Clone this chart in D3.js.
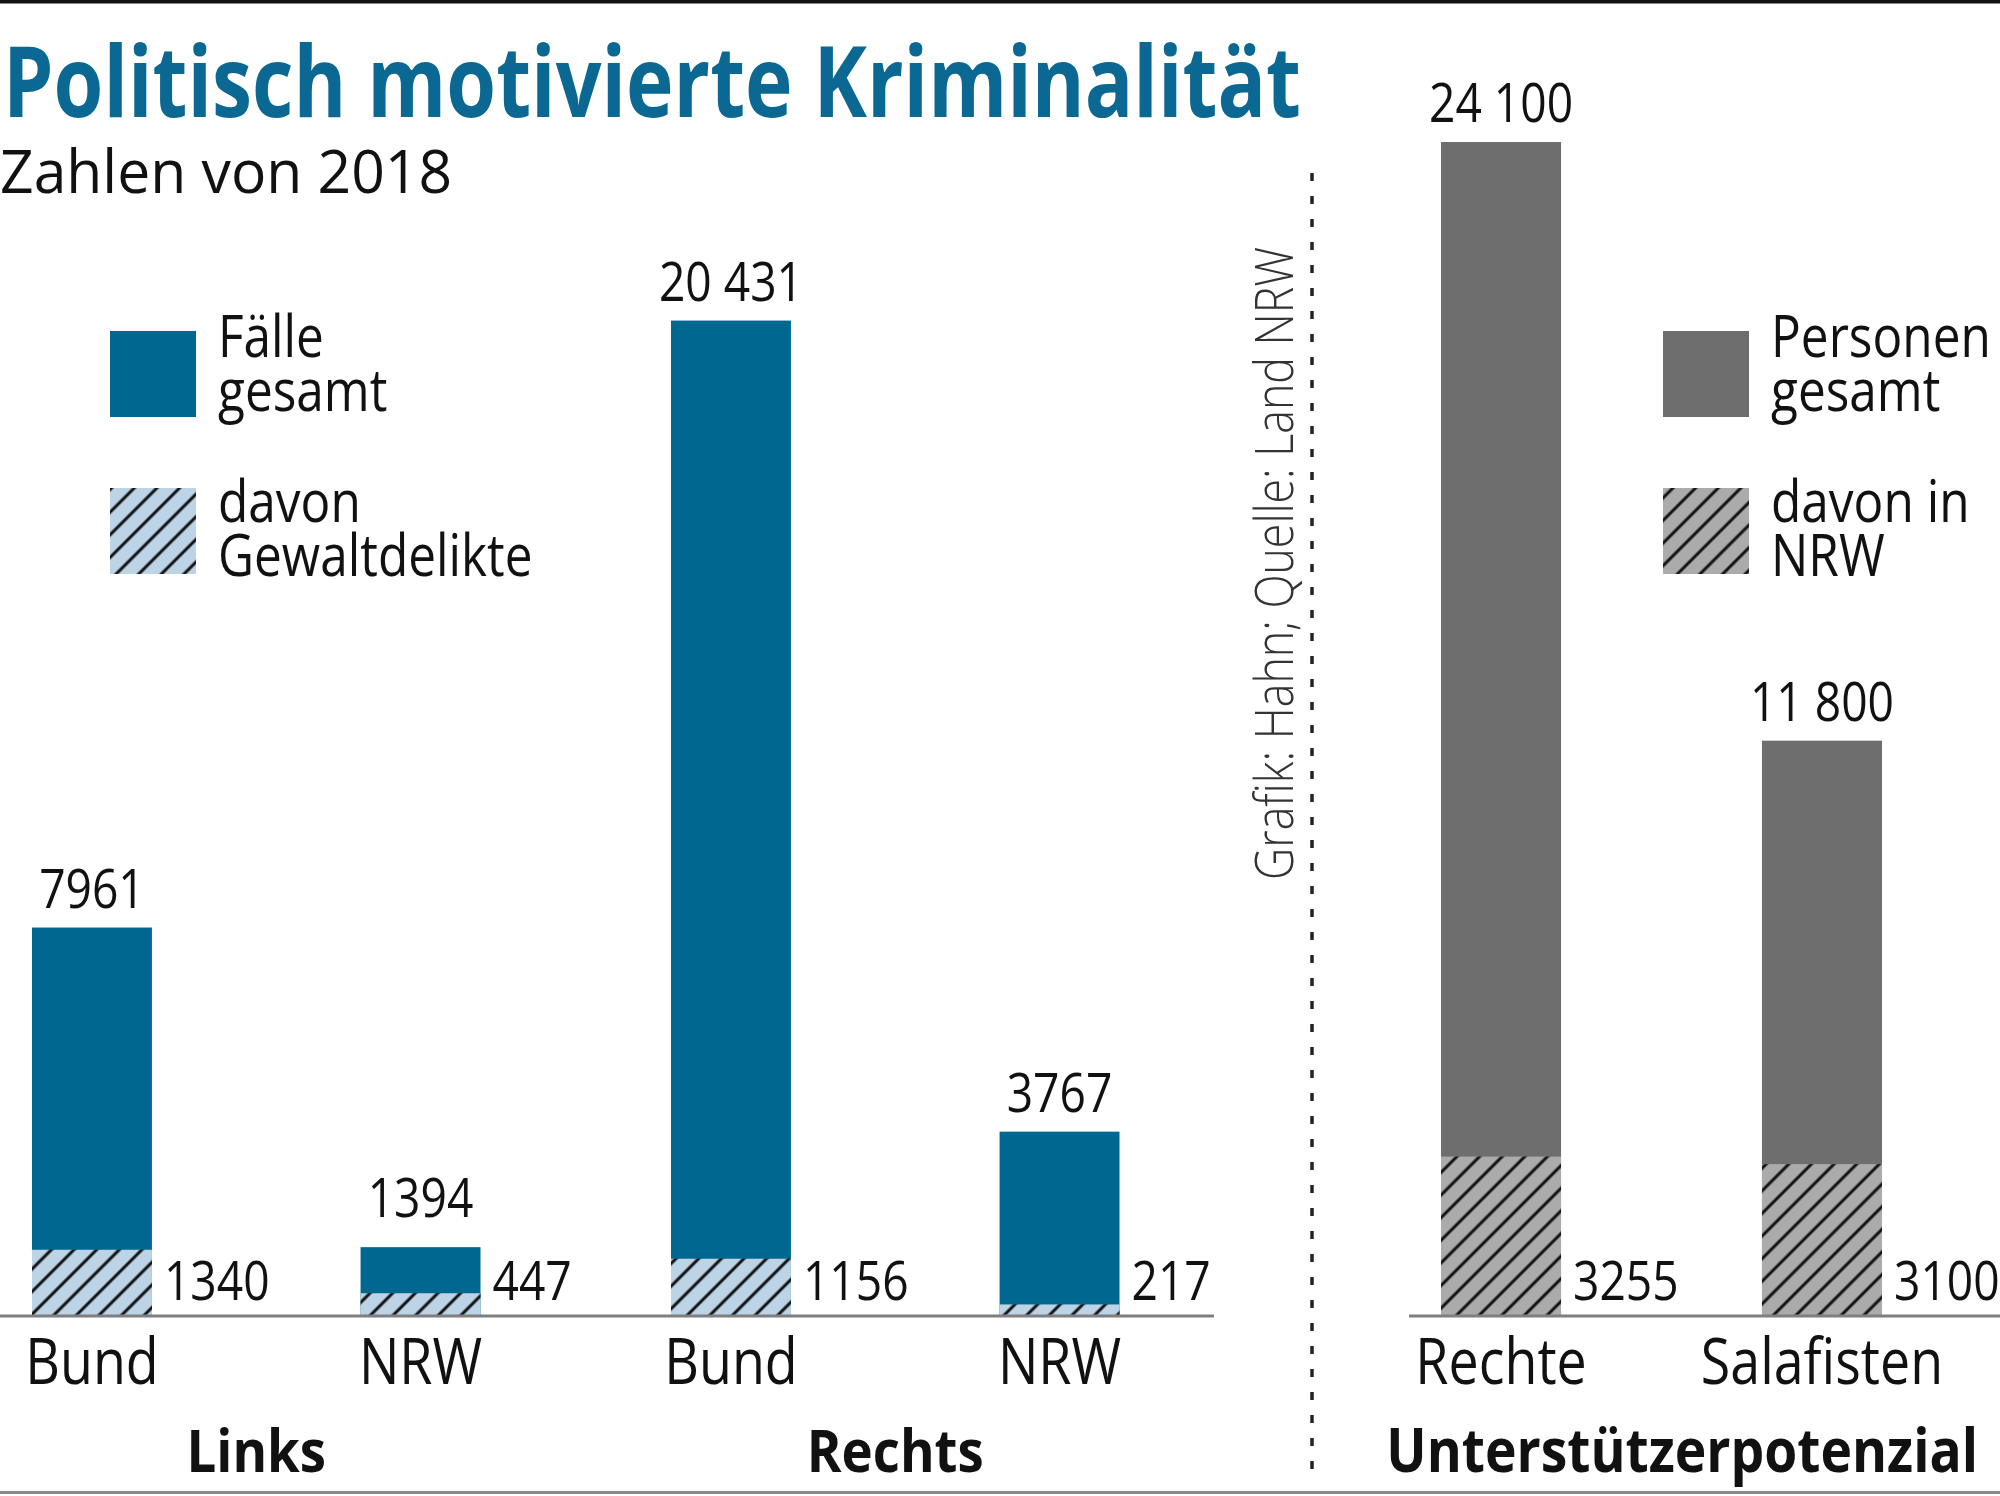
<!DOCTYPE html>
<html>
<head>
<meta charset="utf-8">
<script src="https://cdn.jsdelivr.net/npm/d3@7"></script>
<style>
  body { margin: 0; background: #fff; }
</style>
</head>
<body>
<div id="chart"></div>
<script>
// Politisch motivierte Kriminalität 2018
var groups = ['Links', 'Rechts'];
var places = ['Bund', 'NRW'];
var faelle = [7961, 1394, 20431, 3767];   // Links Bund, Links NRW, Rechts Bund, Rechts NRW
var gewalt = [1340, 447, 1156, 217];       // davon Gewaltdelikte

var lager = ['Rechte', 'Salafisten'];
var personen = [24100, 11800];
var personenNRW = [3255, 3100];

var W = 2000, H = 1496;
var BLUE = '#006791', GREY = '#6f6e6f';
var FONT = "'Open Sans', 'Noto Sans', sans-serif";

var svg = d3.select('#chart').append('svg')
  .attr('width', W)
  .attr('height', H);

//-------------------------------
// hatch patterns
var defs = svg.append('defs');
function hatch(id, bg) {
  var p = defs.append('pattern')
    .attr('id', id)
    .attr('patternUnits', 'userSpaceOnUse')
    .attr('width', 16)
    .attr('height', 16)
    .attr('patternTransform', 'rotate(45)');
  p.append('rect').attr('width', 16).attr('height', 16).attr('fill', bg);
  p.append('line')
    .attr('x1', 8).attr('x2', 8)
    .attr('y1', 0).attr('y2', 16)
    .attr('stroke', '#111')
    .attr('stroke-width', 3);
}
hatch('hatchBlue', '#bdd4e7');
hatch('hatchGrey', '#ababab');

// condensed look: Open Sans squeezed horizontally
function txt(g, str, x, y, o) {
  o = o || {};
  var t = 'translate(' + x + ',' + y + ')';
  if (o.rotate) t += ' rotate(' + o.rotate + ')';
  t += ' scale(' + (o.sx || 0.84) + ',1)';
  return g.append('text')
    .attr('transform', t)
    .attr('text-anchor', o.anchor || 'start')
    .attr('font-family', FONT)
    .attr('font-size', o.size || 59)
    .attr('font-weight', o.weight || 500)
    .attr('fill', o.color || '#111')
    .text(str);
}

var fmt = function (v) {
  return v >= 10000 ? d3.format(',')(v).replace(/,/g, ' ') : String(v);
};

//-------------------------------
// scales
var y = d3.scaleLinear().domain([0, 24100]).range([1315, 142]);

var x0 = d3.scaleBand().domain(groups).range([32, 1310]);
var x1 = d3.scaleBand().domain(places).range([0, 448.5]).paddingInner(0.635);
var xr = d3.scaleBand().domain(lager).range([1441, 1882]).paddingInner(0.626);

var left = faelle.map(function (v, i) {
  return {
    group: groups[Math.floor(i / 2)],
    place: places[i % 2],
    total: v,
    part: gewalt[i]
  };
});
left.forEach(function (d) { d.x = x0(d.group) + x1(d.place); });

var right = personen.map(function (v, i) {
  return { name: lager[i], total: v, part: personenNRW[i] };
});
right.forEach(function (d) { d.x = xr(d.name); });

//-------------------------------
// frame lines
svg.append('rect').attr('x', 0).attr('y', 0).attr('width', W).attr('height', 3.5).attr('fill', '#111');
svg.append('rect').attr('x', 0).attr('y', 1491).attr('width', W).attr('height', 3).attr('fill', '#8a8a8a');

// title
svg.append('text')
  .attr('x', 3).attr('y', 117)
  .attr('font-family', FONT)
  .attr('font-size', 98)
  .attr('font-weight', 700)
  .attr('fill', '#0a6893')
  .attr('textLength', 1298)
  .attr('lengthAdjust', 'spacingAndGlyphs')
  .text('Politisch motivierte Kriminalität');

txt(svg, 'Zahlen von 2018', 0, 193, { size: 60, sx: 0.98, weight: 400 });

//-------------------------------
// bars
function drawBars(data, band, fill, pattern) {
  var g = svg.append('g');
  g.selectAll('.total').data(data).enter().append('rect')
    .attr('class', 'total')
    .attr('x', function (d) { return d.x; })
    .attr('y', function (d) { return y(d.total); })
    .attr('width', band)
    .attr('height', function (d) { return y(0) - y(d.total); })
    .attr('fill', fill);
  g.selectAll('.part').data(data).enter().append('rect')
    .attr('class', 'part')
    .attr('x', function (d) { return d.x; })
    .attr('y', function (d) { return y(d.part); })
    .attr('width', band)
    .attr('height', function (d) { return y(0) - y(d.part); })
    .attr('fill', 'url(#' + pattern + ')');

  data.forEach(function (d) {
    // small bars keep a little more room above
    var gap = (y(0) - y(d.total)) < 100 ? 30 : 20;
    txt(g, fmt(d.total), d.x + band / 2, y(d.total) - gap, { size: 55, anchor: 'middle' });
    txt(g, fmt(d.part), d.x + band + 12, y(0) - 15, { size: 55 });
  });
  return g;
}

drawBars(left, x1.bandwidth(), BLUE, 'hatchBlue');
drawBars(right, xr.bandwidth(), GREY, 'hatchGrey');

// baselines
svg.append('line')
  .attr('x1', 0).attr('x2', 1214)
  .attr('y1', y(0) + 1).attr('y2', y(0) + 1)
  .attr('stroke', '#7f7f7f').attr('stroke-width', 3);
svg.append('line')
  .attr('x1', 1409).attr('x2', W)
  .attr('y1', y(0) + 1).attr('y2', y(0) + 1)
  .attr('stroke', '#7f7f7f').attr('stroke-width', 3);

// category labels
left.forEach(function (d) {
  txt(svg, d.place, d.x + x1.bandwidth() / 2, 1384, { size: 64, anchor: 'middle', weight: 400 });
});
right.forEach(function (d) {
  txt(svg, d.name, d.x + xr.bandwidth() / 2, 1384, { size: 64, anchor: 'middle', weight: 400 });
});

// group labels
groups.forEach(function (gname) {
  var cx = x0(gname) + (x1('NRW') + x1.bandwidth()) / 2;
  txt(svg, gname, cx, 1472, { size: 60, weight: 700, anchor: 'middle', sx: 0.88 });
});
txt(svg, 'Unterstützerpotenzial', 1978, 1472, { size: 60, weight: 700, anchor: 'end', sx: 0.89 });

//-------------------------------
// divider + source
svg.append('line')
  .attr('x1', 1312).attr('x2', 1312)
  .attr('y1', 173).attr('y2', 1473)
  .attr('stroke', '#222')
  .attr('stroke-width', 3.5)
  .attr('stroke-dasharray', '8 15');

svg.append('text')
  .attr('transform', 'translate(1293,880) rotate(-90)')
  .attr('font-family', FONT)
  .attr('font-size', 53)
  .attr('font-weight', 300)
  .attr('fill', '#333')
  .attr('textLength', 633)
  .attr('lengthAdjust', 'spacingAndGlyphs')
  .text('Grafik: Hahn; Quelle: Land NRW');

//-------------------------------
// legends
function legend(x, tx, fill, pattern, lines1, lines2) {
  var g = svg.append('g');
  g.append('rect').attr('x', x).attr('y', 331).attr('width', 86).attr('height', 86).attr('fill', fill);
  g.append('rect').attr('x', x).attr('y', 488).attr('width', 86).attr('height', 86).attr('fill', 'url(#' + pattern + ')');
  txt(g, lines1[0], tx, 357);
  txt(g, lines1[1], tx, 411);
  txt(g, lines2[0], tx, 522);
  txt(g, lines2[1], tx, 576);
}
legend(110, 218, BLUE, 'hatchBlue', ['Fälle', 'gesamt'], ['davon', 'Gewaltdelikte']);
legend(1663, 1771, GREY, 'hatchGrey', ['Personen', 'gesamt'], ['davon in', 'NRW']);
</script>
</body>
</html>
